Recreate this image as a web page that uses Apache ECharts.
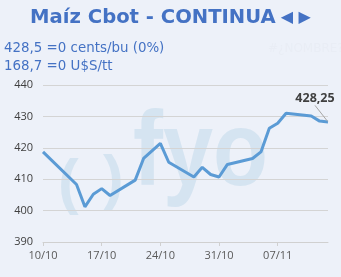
<!DOCTYPE html>
<html>
<head>
<meta charset="utf-8">
<script src="https://cdn.jsdelivr.net/npm/echarts@6/dist/echarts.min.js"></script>
<style>
html,body{margin:0;padding:0;background:#edf1f9;}
#c{width:341px;height:277px;}
</style>
</head>
<body>
<div id="c"></div>
<script>
// Calendar days 10/10 .. 13/11 (category axis), null = no quote (weekends)
const categories = ['10/10','11/10','12/10','13/10','14/10','15/10','16/10','17/10','18/10','19/10','20/10','21/10','22/10','23/10','24/10','25/10','26/10','27/10','28/10','29/10','30/10','31/10','01/11','02/11','03/11','04/11','05/11','06/11','07/11','08/11','09/11','10/11','11/11','12/11','13/11'];
const prices = [418.7,null,null,null,408.3,401.2,405.2,407.0,404.8,null,null,409.7,416.6,null,421.4,415.4,null,null,410.7,413.8,411.5,410.7,414.7,null,null,416.6,418.7,426.2,427.8,431.0,null,null,430.1,428.5,428.25];
const yTicks = [390,400,410,420,430,440];
const titleMain = 'Maíz Cbot - CONTINUA';
const titleArrows = '◀ ▶';
const infoLines = ['428,5 =0 cents/bu (0%)','168,7 =0 U$S/tt'];
const lastLabel = '428,25';

const chart = echarts.init(document.getElementById('c'), null, {renderer:'canvas'});
const lastIdx = prices.length - 1;
const data = prices.map((v,i) => i === lastIdx ? {
  value: v,
  label: {show:true, formatter: lastLabel, position:'top', fontFamily:'Open Sans', fontWeight:'bold', fontSize:12.5, color:'#404040'},
  labelLine: {show:true, lineStyle:{color:'#a6a6a6', width:1}}
} : v);

chart.setOption({
  backgroundColor:'#edf1f9',
  animation:false,
  title:{
    text:'{m|' + titleMain + '} {a|' + titleArrows + '}', left:'center', top:3,
    textStyle:{rich:{
      m:{fontFamily:'DejaVu Sans', fontWeight:'bold', fontSize:19.6, color:'#4472c4'},
      a:{fontFamily:'DejaVu Sans', fontSize:16, color:'#4472c4'}
    }}
  },
  graphic:[
    {type:'text', left:4, top:42, style:{text:infoLines[0], font:'13.4px "DejaVu Sans"', fill:'#4472c4'}},
    {type:'text', left:4, top:60, style:{text:infoLines[1], font:'13.4px "DejaVu Sans"', fill:'#4472c4'}},
    {type:'text', left:268, top:43, style:{text:'#¿NOMBRE?', font:'12px "DejaVu Sans"', fill:'#e9edf5'}},
    {type:'text', left:58, top:154, z:0, style:{text:'(', font:'bold 62px "Liberation Sans"', fill:'#d5e4f1'}},
    {type:'text', left:103, top:150, z:0, style:{text:')', font:'bold 62px "Liberation Sans"', fill:'#d5e4f1'}},
    {type:'text', left:133, top:103, z:0, scaleX:0.85, style:{text:'fyo', font:'bold 106px "Liberation Sans"', fill:'#d5e4f1'}}
  ],
  grid:{left:43, right:13, top:85, bottom:35},
  xAxis:{
    type:'category', data:categories, boundaryGap:false,
    axisLine:{lineStyle:{color:'#d0d0d0'}},
    axisTick:{show:true, interval:6, lineStyle:{color:'#d0d0d0'}, length:4},
    axisLabel:{interval:6, fontFamily:'Open Sans', fontSize:11, color:'#595959', margin:8}
  },
  yAxis:{
    type:'value', min:yTicks[0], max:yTicks[yTicks.length-1], interval:10,
    axisLine:{show:false}, axisTick:{show:false},
    splitLine:{lineStyle:{color:'#d4d4d4'}},
    axisLabel:{fontFamily:'Open Sans', fontSize:11, color:'#404040', margin:10}
  },
  series:[{
    type:'line', data:data, connectNulls:true, showSymbol:true, symbol:'circle', symbolSize:1,
    itemStyle:{color:'rgba(0,0,0,0)'},
    lineStyle:{color:'#5b9bd5', width:3},
    labelLayout:(p) => p.dataIndex === lastIdx ? {dx:-13, dy:-11} : {},
    z:3
  }]
});
</script>
</body>
</html>
